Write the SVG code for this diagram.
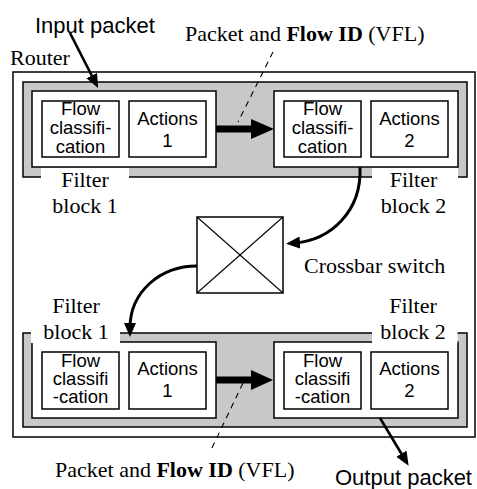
<svg xmlns="http://www.w3.org/2000/svg" width="477" height="489" viewBox="0 0 477 489">
<defs>
<style>
.box{fill:#fff;stroke:#000;stroke-width:1.5}
.band{fill:#c8c8c8;stroke:#000;stroke-width:1.5}
.mask{fill:#fff;stroke:none}
.serif{font-family:"Liberation Serif","Times New Roman",serif;font-size:22px;fill:#000}
.sans{font-family:"Liberation Sans",Arial,sans-serif;fill:#000}
.lbl{font-size:18.5px;text-anchor:middle}
.big{font-size:22px}
.mid{text-anchor:middle}
.dash{stroke:#000;stroke-width:1.1;stroke-dasharray:6 5;fill:none}
.arr{stroke:#000;stroke-width:2.6;fill:none}
.curve{stroke:#000;stroke-width:3;fill:none}
.thick{stroke:#000;stroke-width:7;fill:none}
</style>
<marker id="ah" markerUnits="userSpaceOnUse" markerWidth="16" markerHeight="14" refX="5" refY="6" orient="auto">
<path d="M0,0 L14,6 L0,12 z" fill="#000"/>
</marker>
</defs>
<rect id="router" x="13" y="72" width="462" height="365" fill="#fff" stroke="#000" stroke-width="1.5"/>
<text class="serif" x="10" y="65">Router</text>
<g id="top-band">
<rect class="band" x="23" y="82" width="444" height="95"/>
</g>
<g id="bottom-band">
<rect class="band" x="23" y="333" width="444" height="94"/>
</g>
<g id="filter-block-1-top">
<rect class="box" x="32" y="91" width="184" height="76"/>
<rect class="mask" x="41" y="168" width="88" height="30"/>
<rect class="box" x="42" y="101" width="77" height="56"/>
<text class="sans lbl" x="80.5" y="115">Flow</text>
<text class="sans lbl" x="80.5" y="134">classifi-</text>
<text class="sans lbl" x="80.5" y="152.5">cation</text>
<rect class="box" x="129" y="101" width="77" height="56"/>
<text class="sans lbl" x="167.5" y="124.5">Actions</text>
<text class="sans lbl" x="167.5" y="147">1</text>
<text class="serif mid" x="85" y="187">Filter</text>
<text class="serif mid" x="85" y="213">block 1</text>
</g>
<g id="filter-block-2-top">
<rect class="box" x="274" y="91" width="184" height="76"/>
<rect class="mask" x="372" y="168" width="86" height="30"/>
<rect class="box" x="284" y="101" width="77" height="56"/>
<text class="sans lbl" x="322.5" y="115">Flow</text>
<text class="sans lbl" x="322.5" y="134">classifi-</text>
<text class="sans lbl" x="322.5" y="152.5">cation</text>
<rect class="box" x="371" y="101" width="77" height="56"/>
<text class="sans lbl" x="409.5" y="124.5">Actions</text>
<text class="sans lbl" x="409.5" y="147">2</text>
<text class="serif mid" x="413.5" y="187">Filter</text>
<text class="serif mid" x="413.5" y="213">block 2</text>
</g>
<g id="crossbar">
<rect x="197" y="217" width="86" height="76" fill="#fff" stroke="#000" stroke-width="1.5"/>
<line x1="197" y1="217" x2="283" y2="293" stroke="#000" stroke-width="1.1"/>
<line x1="283" y1="217" x2="197" y2="293" stroke="#000" stroke-width="1.1"/>
<text class="serif" x="304" y="273">Crossbar switch</text>
</g>
<g id="filter-block-1-bottom">
<rect class="box" x="32" y="342" width="184" height="76"/>
<rect class="mask" x="31" y="300" width="89" height="43"/>
<rect class="box" x="42" y="352" width="77" height="57"/>
<text class="sans lbl" x="80.5" y="367">Flow</text>
<text class="sans lbl" x="80.5" y="385">classifi</text>
<text class="sans lbl" x="80.5" y="403">-cation</text>
<rect class="box" x="129" y="352" width="77" height="57"/>
<text class="sans lbl" x="167.5" y="375">Actions</text>
<text class="sans lbl" x="167.5" y="397">1</text>
<text class="serif mid" x="76" y="313">Filter</text>
<text class="serif mid" x="76" y="339">block 1</text>
</g>
<g id="filter-block-2-bottom">
<rect class="box" x="274" y="342" width="184" height="76"/>
<rect class="mask" x="372" y="300" width="85.5" height="43"/>
<rect class="box" x="284" y="352" width="77" height="57"/>
<text class="sans lbl" x="322.5" y="367">Flow</text>
<text class="sans lbl" x="322.5" y="385">classifi</text>
<text class="sans lbl" x="322.5" y="403">-cation</text>
<rect class="box" x="371" y="352" width="77" height="57"/>
<text class="sans lbl" x="409.5" y="375">Actions</text>
<text class="sans lbl" x="409.5" y="397">2</text>
<text class="serif mid" x="413" y="313">Filter</text>
<text class="serif mid" x="413" y="339">block 2</text>
</g>
<g id="connectors">
<line class="thick" x1="216" y1="129" x2="253" y2="129"/>
<polygon points="251,119 274,129 251,139" fill="#000"/>
<line class="thick" x1="216" y1="380" x2="253" y2="380"/>
<polygon points="251,370 273,380 251,390" fill="#000"/>
<line class="dash" x1="273" y1="52" x2="238" y2="122"/>
<line class="dash" x1="243" y1="383" x2="210" y2="452"/>
<line class="arr" x1="70" y1="33" x2="94" y2="80" marker-end="url(#ah)"/>
<line class="arr" x1="380" y1="418" x2="404" y2="458" marker-end="url(#ah)"/>
<path class="curve" d="M360,167 C362,212 330,240 295,243" marker-end="url(#ah)"/>
<path class="curve" d="M197,266 C160,266 130,292 130,328" marker-end="url(#ah)"/>
</g>
<g id="labels">
<text class="sans big" x="35" y="33">Input packet</text>
<text class="serif" x="185" y="41">Packet and <tspan font-weight="bold">Flow ID</tspan> (VFL)</text>
<text class="serif" x="55" y="477">Packet and <tspan font-weight="bold">Flow ID</tspan> (VFL)</text>
<text class="sans big" x="335" y="485">Output packet</text>
</g>
</svg>
